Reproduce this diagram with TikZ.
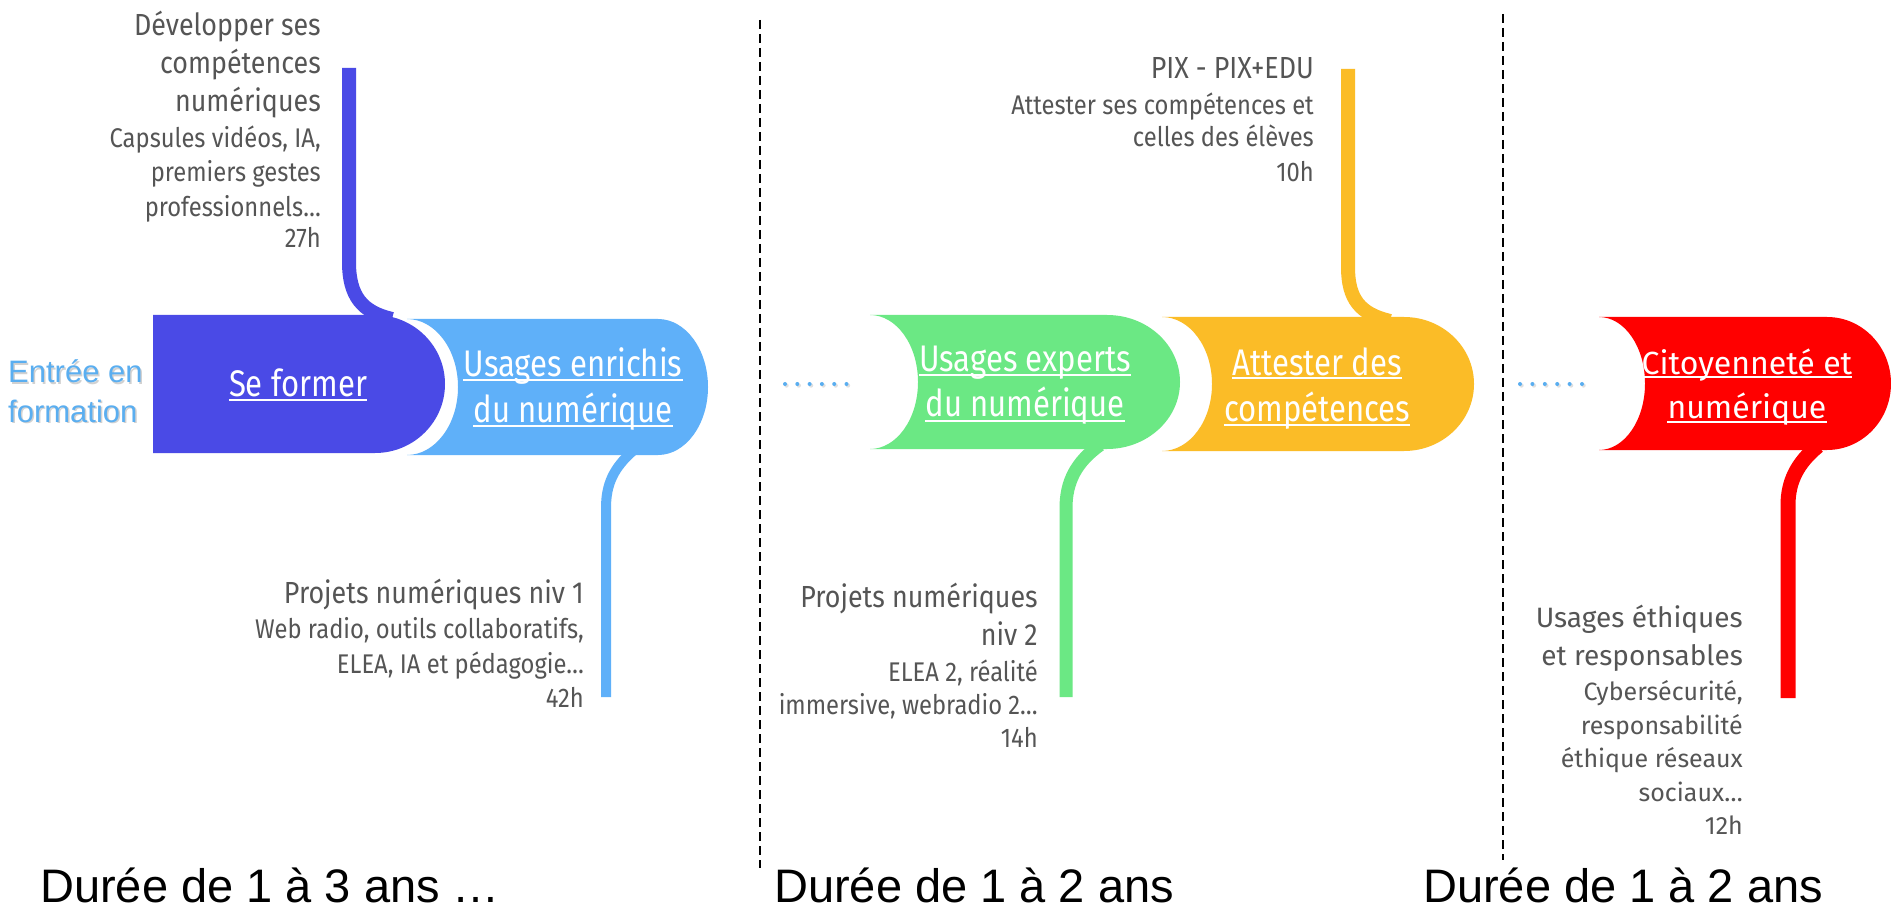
\documentclass[tikz,border=0pt]{standalone}
\usepackage{fontspec}
\setmainfont{Fira Sans}
\newfontfamily\condfont[FakeStretch=0.84]{Fira Sans}
\newfontfamily\grayfont[FakeStretch=0.88]{Fira Sans}
\newfontfamily\arialfont{Liberation Sans}
\definecolor{cblue}{HTML}{4A4AE6}
\definecolor{clblue}{HTML}{5FB0F9}
\definecolor{cgreen}{HTML}{6BE884}
\definecolor{cyellow}{HTML}{FBBC27}
\definecolor{cred}{HTML}{FF0000}
\definecolor{cgray}{HTML}{555555}
\definecolor{centree}{HTML}{5AAEF0}
\newcommand\hdfont{\grayfont\fontsize{30.5}{36}\selectfont}
\newcommand\smfont{\grayfont\fontsize{27}{32}\selectfont}
\newcommand\ttlfont{\condfont\fontsize{37}{44}\selectfont}
\newcommand\rhdfont{\fontsize{28}{34}\selectfont}
\newcommand\rsmfont{\fontsize{25}{30}\selectfont}
\newcommand\rttlfont{\fontsize{32}{40}\selectfont}
\tikzset{
  gt/.style={anchor=base east, inner sep=0pt, text=cgray},
  ttl/.style={anchor=base, inner sep=0pt, text=white, font=\ttlfont},
  rttl/.style={anchor=base, inner sep=0pt, text=white, font=\rttlfont},
  ul/.style={white, line width=2pt},
  stem/.style={line width=#1, line cap=butt},
  sep/.style={black, line width=1.8pt, dash pattern=on 9pt off 5pt},
  dur/.style={anchor=base west, inner sep=0pt, font=\arialfont\fontsize{47}{56}\selectfont},
  ent/.style={anchor=base west, inner sep=0pt, text=centree, font=\arialfont\fontsize{31}{38}\selectfont},
  ents/.style={anchor=base west, inner sep=0pt, text=black, opacity=0.18, font=\arialfont\fontsize{31}{38}\selectfont},
}
\begin{document}
\begin{tikzpicture}[x=1pt,y=-1pt]
\useasboundingbox[fill=white] (0,0) rectangle (1891,909);

% separators
\coordinate (s1t) at (760,20);  \coordinate (s1b) at (760,868);
\coordinate (s2t) at (1503,14); \coordinate (s2b) at (1503,860);
\draw[sep] (s1t) -- (s1b);
\draw[sep] (s2t) -- (s2b);

% stems
\coordinate (st1) at (349,68);
\coordinate (st1e) at (392,319);
\draw[cblue, stem=14pt] (st1) -- (349,262) .. controls (349,296) and (362,312) .. (st1e);
\coordinate (st2) at (606,697);
\coordinate (st2e) at (634,450);
\draw[clblue, stem=10pt] (st2e) .. controls (613,468) and (606,485) .. (606,508) -- (st2);
\coordinate (st3) at (1066,697);
\coordinate (st3e) at (1100,445);
\draw[cgreen, stem=13pt] (st3e) .. controls (1076,462) and (1066,482) .. (1066,508) -- (st3);
\coordinate (st4) at (1348,69);
\coordinate (st4e) at (1390,321);
\draw[cyellow, stem=14pt] (st4) -- (1348,267) .. controls (1348,299) and (1360,314) .. (st4e);
\coordinate (st5) at (1788,698);
\coordinate (st5e) at (1818,446);
\draw[cred, stem=15pt] (st5e) .. controls (1797,463) and (1788,482) .. (1788,505) -- (st5);

% shapes
\fill[clblue] (407,319) -- (658,319) arc[start angle=-90,end angle=90,x radius=50,y radius=68]
  -- (407,455) arc[start angle=90,end angle=-90,x radius=51,y radius=68] -- cycle;
\fill[cblue] (153,315) -- (375,315) arc[start angle=-90,end angle=90,x radius=70,y radius=69]
  -- (153,453) -- cycle;
\fill[cyellow] (1162,317) -- (1404,317) arc[start angle=-90,end angle=90,x radius=70,y radius=67]
  -- (1162,451) arc[start angle=90,end angle=-90,x radius=50,y radius=67] -- cycle;
\fill[cgreen] (870,315) -- (1107,315) arc[start angle=-90,end angle=90,x radius=73,y radius=67]
  -- (870,449) arc[start angle=90,end angle=-90,x radius=48,y radius=67] -- cycle;
\fill[cred] (1599,317) -- (1827,317) arc[start angle=-90,end angle=90,x radius=64,y radius=66.5]
  -- (1599,450) arc[start angle=90,end angle=-90,x radius=46,y radius=66.5] -- cycle;

% dotted links
\foreach \i in {0,...,5} {
  \fill[black, opacity=0.12] (786.5+12.3*\i,385.5) circle (2.2pt);
  \fill[centree] (785+12.3*\i,384) circle (2pt);
  \fill[black, opacity=0.12] (1521.5+12.4*\i,385.5) circle (2.2pt);
  \fill[centree] (1520+12.4*\i,384) circle (2pt);
}

% titles
\node[ttl] (t1) at (298,396) {Se former};
\node[ttl] (t2a) at (573,377) {Usages enrichis};
\node[ttl] (t2b) at (573,422) {du numérique};
\node[ttl] (t3a) at (1025,372) {Usages experts};
\node[ttl] (t3b) at (1025,417) {du numérique};
\node[ttl] (t4a) at (1317,375) {Attester des};
\node[ttl] (t4b) at (1317,421) {compétences};
\node[rttl] (t5a) at (1747,374) {Citoyenneté et};
\node[rttl] (t5b) at (1747,418) {numérique};
\foreach \n in {t1,t2a,t2b,t3a,t3b,t4a,t4b,t5a,t5b}
  \draw[ul] ([yshift=-3.5pt]\n.base west) -- ([yshift=-3.5pt]\n.base east);

% entry
\node[ents] (ent1s) at (9.5,384.5) {Entrée en};
\node[ents] (ent2s) at (9.5,423.5) {formation};
\node[ent] (ent1) at (8,383) {Entrée en};
\node[ent] (ent2) at (8,422) {formation};

% block A
\node[gt, font=\hdfont] (a1) at (321,36) {Développer ses};
\node[gt, font=\hdfont] (a2) at (321,74) {compétences};
\node[gt, font=\hdfont] (a3) at (321,112) {numériques};
\node[gt, font=\smfont] (a4) at (321,148) {Capsules vidéos, IA,};
\node[gt, font=\smfont] (a5) at (321,182) {premiers gestes};
\node[gt, font=\smfont] (a6) at (321,217) {professionnels…};
\node[gt, font=\smfont] (a7) at (321,248) {27h};

% block B
\node[gt, font=\hdfont] (b1) at (584,603) {Projets numériques niv 1};
\node[gt, font=\smfont] (b2) at (584,638) {Web radio, outils collaboratifs,};
\node[gt, font=\smfont] (b3) at (584,673) {ELEA, IA et pédagogie…};
\node[gt, font=\smfont] (b4) at (584,707) {42h};

% block C
\node[gt, font=\hdfont] (c1) at (1314,79) {PIX - PIX+EDU};
\node[gt, font=\smfont] (c2) at (1314,115) {Attester ses compétences et};
\node[gt, font=\smfont] (c3) at (1314,147) {celles des élèves};
\node[gt, font=\smfont] (c4) at (1314,182) {10h};

% block D
\node[gt, font=\hdfont] (d1) at (1038,607) {Projets numériques};
\node[gt, font=\hdfont] (d2) at (1038,645) {niv 2};
\node[gt, font=\smfont] (d3) at (1038,681) {ELEA 2, réalité};
\node[gt, font=\smfont] (d4) at (1038,714) {immersive, webradio 2…};
\node[gt, font=\smfont] (d5) at (1038,747) {14h};

% block E
\node[gt, font=\rhdfont] (e1) at (1743,627) {Usages éthiques};
\node[gt, font=\rhdfont] (e2) at (1743,665) {et responsables};
\node[gt, font=\rsmfont] (e3) at (1743,700) {Cybersécurité,};
\node[gt, font=\rsmfont] (e4) at (1743,734) {responsabilité};
\node[gt, font=\rsmfont] (e5) at (1743,767) {éthique réseaux};
\node[gt, font=\rsmfont] (e6) at (1743,801) {sociaux…};
\node[gt, font=\rsmfont] (e7) at (1743,834) {12h};

% durations
\node[dur] (dur1) at (40,902) {Durée de 1 à 3 ans …};
\node[dur] (dur2) at (774,902) {Durée de 1 à 2 ans};
\node[dur] (dur3) at (1423,902) {Durée de 1 à 2 ans};
\end{tikzpicture}
\end{document}
